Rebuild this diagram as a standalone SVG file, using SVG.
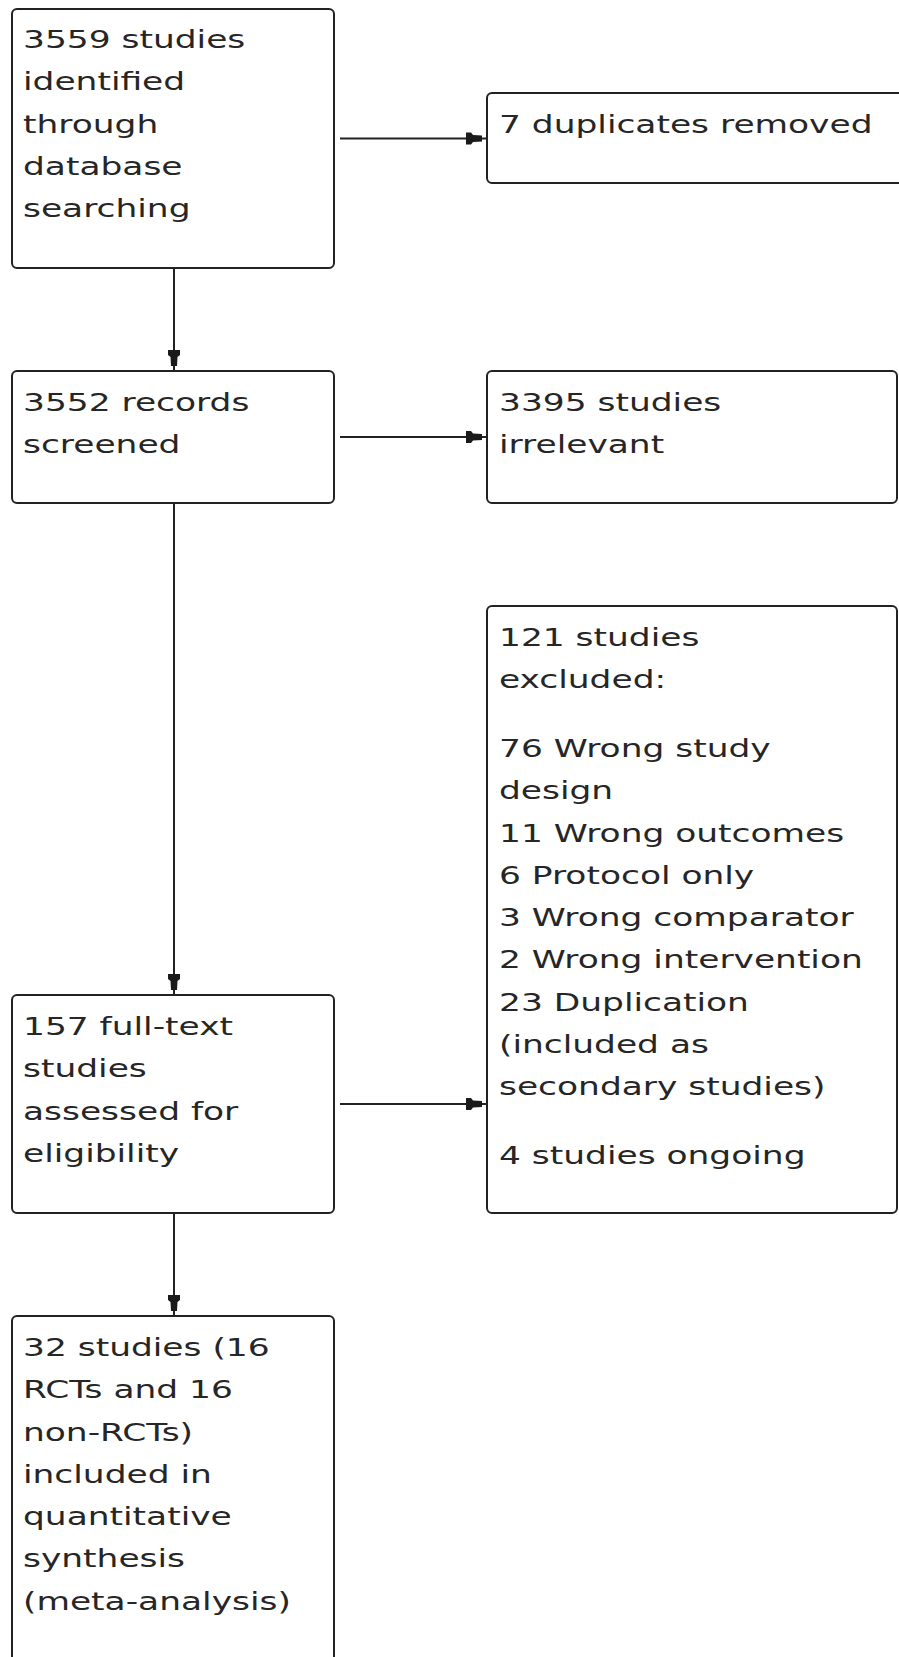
<svg xmlns="http://www.w3.org/2000/svg" width="899" height="1657" viewBox="0 0 899 1657">
  <style>
    .box { fill: #ffffff; stroke: #222222; stroke-width: 2; }
    .lbl { font-family: "DejaVu Sans", "Liberation Sans", sans-serif; font-size: 25.5px; fill: #262626; }
    .conn { fill: none; stroke: #222222; stroke-width: 2; }
  </style>
  <defs>
    <marker id="ah" markerUnits="userSpaceOnUse" markerWidth="24" markerHeight="16" viewBox="0 -8 24 16" refX="21" refY="0" orient="auto">
      <path d="M0,-6 L5,-6 L7,-3.5 L16,-3 L16,3 L7,3.5 L5,6 L0,6 Z" fill="#1a1a1a"/>
    </marker>
  </defs>
  <rect width="899" height="1657" fill="#ffffff"/>

  <g id="connectors">
    <path class="conn" d="M340,138.5 H487" marker-end="url(#ah)"/>
    <path class="conn" d="M174,268 V371" marker-end="url(#ah)"/>
    <path class="conn" d="M340,437 H487" marker-end="url(#ah)"/>
    <path class="conn" d="M174,503 V995" marker-end="url(#ah)"/>
    <path class="conn" d="M340,1104 H487" marker-end="url(#ah)"/>
    <path class="conn" d="M174,1213 V1316" marker-end="url(#ah)"/>
  </g>

  <g id="identified">
    <rect class="box" x="12" y="9" width="322" height="259" rx="5"/>
    <g transform="translate(23,0) scale(1.35,1)">
      <text class="lbl" x="0" y="48">3559 studies</text>
      <text class="lbl" x="0" y="90.3">identified</text>
      <text class="lbl" x="0" y="132.6">through</text>
      <text class="lbl" x="0" y="174.9">database</text>
      <text class="lbl" x="0" y="217.2">searching</text>
    </g>
  </g>

  <g id="duplicates">
    <rect class="box" x="487" y="93" width="430" height="90" rx="5"/>
    <g transform="translate(499,0) scale(1.35,1)">
      <text class="lbl" x="0" y="133">7 duplicates removed</text>
    </g>
  </g>

  <g id="screened">
    <rect class="box" x="12" y="371" width="322" height="132" rx="5"/>
    <g transform="translate(23,0) scale(1.35,1)">
      <text class="lbl" x="0" y="411">3552 records</text>
      <text class="lbl" x="0" y="453.3">screened</text>
    </g>
  </g>

  <g id="irrelevant">
    <rect class="box" x="487" y="371" width="410" height="132" rx="5"/>
    <g transform="translate(499,0) scale(1.35,1)">
      <text class="lbl" x="0" y="411">3395 studies</text>
      <text class="lbl" x="0" y="453.3">irrelevant</text>
    </g>
  </g>

  <g id="excluded">
    <rect class="box" x="487" y="606" width="410" height="607" rx="5"/>
    <g transform="translate(499,0) scale(1.35,1)">
      <text class="lbl" x="0" y="646">121 studies</text>
      <text class="lbl" x="0" y="688.3">excluded:</text>
      <text class="lbl" x="0" y="757">76 Wrong study</text>
      <text class="lbl" x="0" y="799.3">design</text>
      <text class="lbl" x="0" y="841.6">11 Wrong outcomes</text>
      <text class="lbl" x="0" y="883.9">6 Protocol only</text>
      <text class="lbl" x="0" y="926.2">3 Wrong comparator</text>
      <text class="lbl" x="0" y="968.5">2 Wrong intervention</text>
      <text class="lbl" x="0" y="1010.8">23 Duplication</text>
      <text class="lbl" x="0" y="1053.1">(included as</text>
      <text class="lbl" x="0" y="1095.4">secondary studies)</text>
      <text class="lbl" x="0" y="1164">4 studies ongoing</text>
    </g>
  </g>

  <g id="fulltext">
    <rect class="box" x="12" y="995" width="322" height="218" rx="5"/>
    <g transform="translate(23,0) scale(1.35,1)">
      <text class="lbl" x="0" y="1035">157 full-text</text>
      <text class="lbl" x="0" y="1077.3">studies</text>
      <text class="lbl" x="0" y="1119.6">assessed for</text>
      <text class="lbl" x="0" y="1161.9">eligibility</text>
    </g>
  </g>

  <g id="included">
    <rect class="box" x="12" y="1316" width="322" height="380" rx="5"/>
    <g transform="translate(23,0) scale(1.35,1)">
      <text class="lbl" x="0" y="1356">32 studies (16</text>
      <text class="lbl" x="0" y="1398.3">RCTs and 16</text>
      <text class="lbl" x="0" y="1440.6">non-RCTs)</text>
      <text class="lbl" x="0" y="1482.9">included in</text>
      <text class="lbl" x="0" y="1525.2">quantitative</text>
      <text class="lbl" x="0" y="1567.5">synthesis</text>
      <text class="lbl" x="0" y="1609.8">(meta-analysis)</text>
    </g>
  </g>
</svg>
